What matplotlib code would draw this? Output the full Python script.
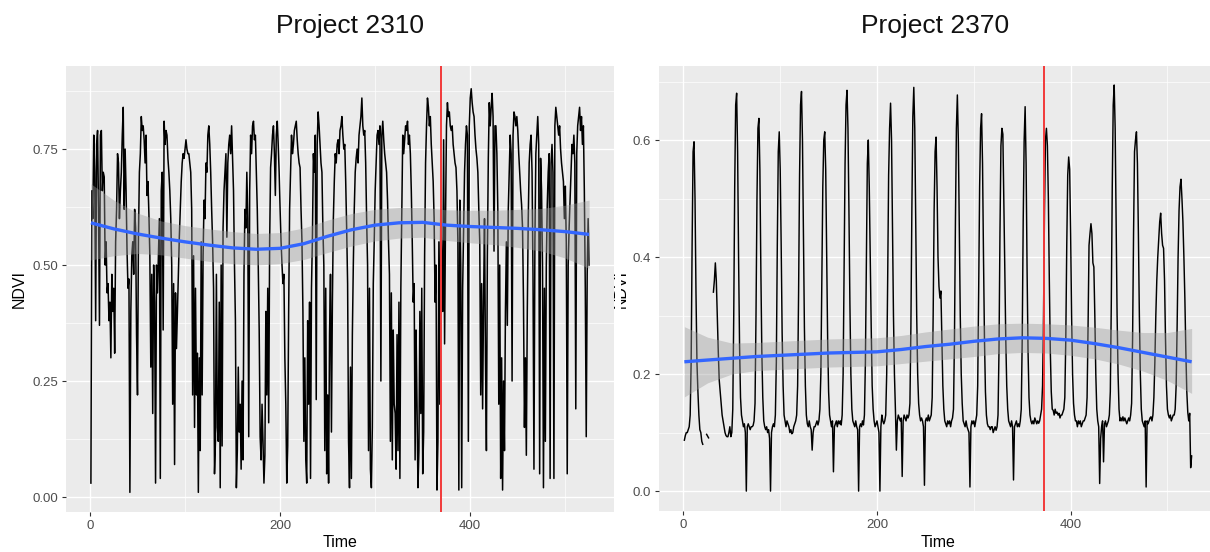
import numpy as np
import matplotlib
matplotlib.use("Agg")
import matplotlib.pyplot as plt
from matplotlib.patches import Rectangle
from matplotlib.ticker import MultipleLocator

plt.rcParams['font.family'] = ['Liberation Sans', 'DejaVu Sans']

# ---------------- data ----------------
titles = ["Project 2310", "Project 2370"]

ndvi_2310 = [
    0.03, 0.66, 0.60, 0.78, 0.70, 0.38, 0.76, 0.79, 0.62, 0.37, 0.78, 0.79, 0.66, 0.70, 0.69, 0.50, 0.55, 0.44, 0.46, 0.38, 0.42, 0.30, 0.48, 0.40, 0.45,
    0.31, 0.55, 0.62, 0.74, 0.72, 0.60, 0.66, 0.70, 0.78, 0.84, 0.62, 0.75, 0.66, 0.53, 0.45, 0.47, 0.01, 0.40, 0.52,
    0.55, 0.48, 0.62, 0.58, 0.35, 0.22, 0.56, 0.70, 0.74, 0.82, 0.79, 0.80, 0.77, 0.72, 0.78, 0.65, 0.68, 0.61, 0.52, 0.28, 0.48, 0.18, 0.50, 0.42, 0.03, 0.50, 0.44,
    0.52, 0.60, 0.04, 0.66, 0.70, 0.36, 0.81, 0.76, 0.79, 0.78, 0.73, 0.70, 0.66, 0.60, 0.50, 0.20, 0.46, 0.07, 0.44, 0.32, 0.40, 0.48,
    0.56, 0.62, 0.68, 0.72, 0.74, 0.73, 0.75, 0.77, 0.75, 0.74, 0.74, 0.72, 0.70, 0.62, 0.22, 0.52, 0.15, 0.45, 0.22, 0.31, 0.01, 0.30, 0.10, 0.55, 0.22, 0.52,
    0.64, 0.60, 0.72, 0.70, 0.78, 0.80, 0.76, 0.70, 0.62, 0.55, 0.45, 0.05, 0.12, 0.48, 0.15, 0.12, 0.42, 0.02, 0.50, 0.11, 0.58,
    0.66, 0.70, 0.74, 0.56, 0.72, 0.76, 0.78, 0.74, 0.80, 0.73, 0.66, 0.50, 0.38, 0.02, 0.10, 0.28, 0.14, 0.20, 0.06, 0.25, 0.08, 0.48, 0.62, 0.58, 0.70,
    0.60, 0.13, 0.66, 0.78, 0.74, 0.80, 0.81, 0.77, 0.78, 0.70, 0.62, 0.50, 0.36, 0.13, 0.08, 0.20, 0.12, 0.03, 0.09, 0.40, 0.22, 0.45, 0.16, 0.55,
    0.71, 0.74, 0.78, 0.80, 0.74, 0.65, 0.78, 0.81, 0.76, 0.70, 0.62, 0.55, 0.50, 0.46, 0.48, 0.30, 0.20, 0.03,
    0.11, 0.40, 0.62, 0.70, 0.78, 0.74, 0.76, 0.79, 0.80, 0.81, 0.77, 0.74, 0.72, 0.71, 0.62, 0.55, 0.40, 0.12, 0.30, 0.08, 0.03, 0.38, 0.20, 0.42, 0.04, 0.45,
    0.56, 0.74, 0.70, 0.78, 0.21, 0.76, 0.83, 0.80, 0.76, 0.72, 0.70, 0.58, 0.50, 0.10, 0.45, 0.05, 0.22, 0.03, 0.35,
    0.48, 0.14, 0.42, 0.60, 0.68, 0.74, 0.72, 0.76, 0.77, 0.74, 0.79, 0.80, 0.82, 0.78, 0.75, 0.76, 0.68, 0.58, 0.46, 0.12, 0.02, 0.28, 0.04, 0.35,
    0.50, 0.62, 0.70, 0.73, 0.75, 0.72, 0.78, 0.80, 0.82, 0.86, 0.80, 0.78, 0.79, 0.72, 0.60, 0.50, 0.10, 0.45, 0.06, 0.02, 0.15, 0.46,
    0.55, 0.66, 0.72, 0.78, 0.79, 0.76, 0.80, 0.25, 0.78, 0.81, 0.77, 0.74, 0.72, 0.70, 0.64, 0.55, 0.48, 0.12, 0.44, 0.08, 0.36, 0.20, 0.18, 0.06, 0.35, 0.10, 0.42, 0.04, 0.45,
    0.62, 0.78, 0.74, 0.77, 0.80, 0.79, 0.81, 0.76, 0.78, 0.74, 0.66, 0.55, 0.42, 0.46, 0.08, 0.36, 0.20, 0.02, 0.10, 0.40, 0.18, 0.45, 0.05, 0.14, 0.52,
    0.72, 0.80, 0.86, 0.84, 0.80, 0.82, 0.76, 0.72, 0.68, 0.60, 0.42, 0.50, 0.015, 0.12, 0.55, 0.20, 0.62, 0.50, 0.40, 0.77, 0.33, 0.60,
    0.80, 0.85, 0.82, 0.83, 0.80, 0.79, 0.80, 0.76, 0.74, 0.72, 0.71, 0.66, 0.55, 0.015, 0.64, 0.50, 0.02, 0.45, 0.58,
    0.70, 0.76, 0.80, 0.78, 0.12, 0.80, 0.86, 0.88, 0.85, 0.83, 0.82, 0.78, 0.75, 0.73, 0.70, 0.62, 0.55, 0.22, 0.46, 0.19, 0.42, 0.60, 0.30, 0.10, 0.52,
    0.73, 0.85, 0.80, 0.84, 0.87, 0.82, 0.53, 0.80, 0.80, 0.74, 0.62, 0.20, 0.50, 0.04, 0.30, 0.015, 0.25,
    0.10, 0.40, 0.55, 0.37, 0.62, 0.70, 0.78, 0.74, 0.25, 0.78, 0.83, 0.82, 0.80, 0.82, 0.79, 0.74, 0.70, 0.66, 0.63, 0.58, 0.42,
    0.15, 0.30, 0.09, 0.40, 0.60, 0.72, 0.76, 0.78, 0.70, 0.48, 0.06, 0.55, 0.74, 0.78, 0.82, 0.76, 0.05, 0.73, 0.66, 0.50, 0.02, 0.45,
    0.12, 0.50, 0.63, 0.70, 0.74, 0.04, 0.72, 0.76, 0.70, 0.04, 0.80, 0.84, 0.82, 0.80, 0.78, 0.80, 0.75, 0.72, 0.70, 0.68, 0.60, 0.67, 0.55, 0.05, 0.50,
    0.58, 0.64, 0.70, 0.76, 0.74, 0.78, 0.72, 0.19, 0.74, 0.80, 0.82, 0.84, 0.79, 0.82, 0.76, 0.80, 0.66, 0.45, 0.13, 0.48, 0.60, 0.50,
]

nan = float('nan')
ndvi_2370 = [
    0.087, 0.095, 0.10, 0.10, 0.105, 0.11, 0.13, 0.22, 0.42, 0.58, 0.597, 0.50, 0.34, 0.22, 0.17, 0.13, 0.105, 0.10, 0.085, 0.08,
    nan, nan, nan,
    0.097, 0.094, 0.091,
    nan, nan, nan, nan,
    0.34, 0.36, 0.39, 0.36, 0.30, 0.24, 0.19, 0.17, 0.15, 0.13, 0.12, 0.11, 0.10, 0.095, 0.093, 0.093, 0.10, 0.11, 0.093, 0.10,
    0.14, 0.30, 0.52, 0.66, 0.68, 0.58, 0.40, 0.25, 0.16, 0.13,
    0.12, 0.11, 0.115, 0.10, 0.00, 0.11, 0.115, 0.11, 0.105, 0.11, 0.11, 0.112, 0.12, 0.15, 0.30, 0.50, 0.62, 0.637,
    0.55, 0.38, 0.24, 0.16, 0.12, 0.11, 0.105, 0.11, 0.10, 0.105, 0.09, 0.00, 0.10, 0.11, 0.115, 0.11, 0.13, 0.22, 0.42, 0.58, 0.614,
    0.55, 0.42, 0.27, 0.18, 0.13, 0.12, 0.11, 0.12, 0.115, 0.11, 0.10, 0.105, 0.098, 0.10, 0.11, 0.115, 0.12, 0.13, 0.18, 0.34, 0.54, 0.66, 0.683,
    0.60, 0.44, 0.28, 0.18, 0.13, 0.115, 0.11, 0.12, 0.11, 0.105, 0.07, 0.10, 0.11, 0.11, 0.115, 0.12, 0.113, 0.12, 0.14, 0.20, 0.36, 0.52, 0.60, 0.614,
    0.55, 0.40, 0.26, 0.17, 0.13, 0.12, 0.11, 0.12, 0.033, 0.11, 0.115, 0.12, 0.11, 0.12, 0.115, 0.12, 0.113, 0.13, 0.20, 0.38, 0.56, 0.66, 0.685,
    0.62, 0.48, 0.32, 0.20, 0.14, 0.12, 0.115, 0.11, 0.12, 0.11, 0.105, 0.00, 0.11, 0.115, 0.11, 0.12, 0.113, 0.13, 0.22, 0.40, 0.56, 0.60,
    0.52, 0.40, 0.28, 0.18, 0.14, 0.12, 0.11, 0.115, 0.12, 0.11, 0.10, 0.00, 0.11, 0.13, 0.12, 0.115, 0.12, 0.13, 0.20, 0.36, 0.54, 0.62, 0.663,
    0.60, 0.45, 0.30, 0.20, 0.14, 0.07, 0.12, 0.13, 0.125, 0.12, 0.125, 0.025, 0.12, 0.13, 0.125, 0.12, 0.13, 0.125, 0.13, 0.15, 0.28, 0.48, 0.64, 0.69,
    0.62, 0.46, 0.30, 0.20, 0.15, 0.13, 0.12, 0.125, 0.12, 0.11, 0.01, 0.12, 0.125, 0.12, 0.13, 0.12, 0.125, 0.13, 0.16, 0.30, 0.48, 0.58, 0.605,
    0.52, 0.40, 0.35, 0.33, 0.342, 0.26, 0.18, 0.14, 0.12, 0.115, 0.11, 0.12, 0.115, 0.12, 0.11, 0.12, 0.125, 0.14, 0.26, 0.46, 0.62, 0.677,
    0.60, 0.45, 0.30, 0.20, 0.15, 0.12, 0.115, 0.11, 0.12, 0.11, 0.105, 0.10, 0.007, 0.11, 0.12, 0.115, 0.12, 0.11, 0.12, 0.13, 0.18, 0.34, 0.52, 0.62, 0.645,
    0.56, 0.40, 0.26, 0.17, 0.13, 0.115, 0.11, 0.11, 0.105, 0.11, 0.11, 0.10, 0.105, 0.11, 0.104, 0.11, 0.13, 0.24, 0.44, 0.59, 0.62,
    0.61, 0.50, 0.38, 0.26, 0.18, 0.14, 0.12, 0.115, 0.11, 0.12, 0.11, 0.019, 0.11, 0.115, 0.12, 0.11, 0.115, 0.11, 0.12, 0.14, 0.26, 0.46, 0.60, 0.657,
    0.56, 0.38, 0.24, 0.16, 0.13, 0.12, 0.115, 0.12, 0.115, 0.125, 0.12, 0.115, 0.12, 0.116, 0.12, 0.13, 0.14, 0.18, 0.30, 0.48, 0.60, 0.62,
    0.59, 0.50, 0.36, 0.24, 0.17, 0.14, 0.138, 0.13, 0.14, 0.133, 0.135, 0.13, 0.133, 0.125, 0.13, 0.13, 0.135, 0.14, 0.16, 0.26, 0.42, 0.54, 0.571,
    0.55, 0.44, 0.30, 0.20, 0.15, 0.13, 0.12, 0.12, 0.11, 0.12, 0.115, 0.12, 0.11, 0.115, 0.12, 0.12, 0.125, 0.13, 0.16, 0.28, 0.42, 0.44, 0.457,
    0.44, 0.39, 0.383, 0.30, 0.20, 0.14, 0.12, 0.11, 0.013, 0.09, 0.11, 0.12, 0.05, 0.115, 0.12, 0.11, 0.115, 0.12, 0.13, 0.17, 0.32, 0.52, 0.66, 0.694,
    0.62, 0.46, 0.30, 0.20, 0.14, 0.12, 0.125, 0.12, 0.127, 0.12, 0.125, 0.12, 0.115, 0.12, 0.125, 0.12, 0.13, 0.15, 0.26, 0.44, 0.58, 0.60, 0.614,
    0.56, 0.44, 0.30, 0.20, 0.14, 0.12, 0.115, 0.11, 0.12, 0.007, 0.12, 0.115, 0.12, 0.125, 0.127, 0.12, 0.13, 0.16, 0.22, 0.30, 0.36, 0.40, 0.43, 0.46, 0.475,
    0.44, 0.42, 0.415, 0.36, 0.26, 0.18, 0.14, 0.13, 0.125, 0.13, 0.12, 0.125, 0.13, 0.13, 0.14, 0.18, 0.28, 0.40, 0.48, 0.52, 0.533,
    0.50, 0.46, 0.40, 0.33, 0.24, 0.17, 0.135, 0.12, 0.133, 0.04, 0.06,
]

# loess smoother
smooth_time = [1, 25, 50, 75, 100, 125, 150, 175, 200, 225, 250, 275, 300, 325, 350, 375, 400, 425, 450, 475, 500, 525]
smooth_2310 = [0.591, 0.578, 0.567, 0.558, 0.550, 0.543, 0.537, 0.534, 0.536, 0.546, 0.562, 0.576, 0.586, 0.591, 0.592, 0.586, 0.583, 0.581, 0.579, 0.576, 0.572, 0.566]
lower_2310 = [0.511, 0.520, 0.525, 0.522, 0.515, 0.508, 0.503, 0.500, 0.503, 0.512, 0.527, 0.541, 0.552, 0.558, 0.560, 0.553, 0.548, 0.544, 0.538, 0.530, 0.515, 0.493]
upper_2310 = [0.675, 0.640, 0.612, 0.595, 0.585, 0.578, 0.572, 0.568, 0.570, 0.580, 0.597, 0.611, 0.620, 0.624, 0.624, 0.619, 0.618, 0.618, 0.620, 0.622, 0.629, 0.640]
smooth_2370 = [0.221, 0.224, 0.227, 0.230, 0.232, 0.234, 0.236, 0.237, 0.238, 0.242, 0.247, 0.251, 0.256, 0.260, 0.262, 0.261, 0.258, 0.252, 0.245, 0.237, 0.229, 0.221]
lower_2370 = [0.161, 0.185, 0.200, 0.206, 0.208, 0.210, 0.212, 0.213, 0.214, 0.218, 0.222, 0.226, 0.230, 0.235, 0.237, 0.236, 0.232, 0.226, 0.217, 0.205, 0.189, 0.167]
upper_2370 = [0.281, 0.263, 0.253, 0.254, 0.256, 0.258, 0.260, 0.261, 0.262, 0.266, 0.272, 0.277, 0.282, 0.286, 0.287, 0.286, 0.284, 0.280, 0.275, 0.271, 0.271, 0.278]

vline_time = [369.5, 373.0]

x_ticks = [0, 200, 400]
y_ticks_2310 = [0.00, 0.25, 0.50, 0.75]
y_labels_2310 = ["0.00", "0.25", "0.50", "0.75"]
y_ticks_2370 = [0.0, 0.2, 0.4, 0.6]
y_labels_2370 = ["0.0", "0.2", "0.4", "0.6"]

# ---------------- figure ----------------
W, H = 1210, 552
fig = plt.figure(figsize=(W / 100, H / 100), dpi=100)
fig.patch.set_facecolor("white")


def px_axes(left, right, top, bottom):
    return fig.add_axes([left / W, (H - bottom) / H, (right - left) / W, (bottom - top) / H])


ax1 = px_axes(66, 614, 66, 512)
ax2 = px_axes(659, 1217, 66, 511)

panels = [
    (ax1, ndvi_2310, smooth_2310, lower_2310, upper_2310, vline_time[0],
     (-25.2, 551.2), (-0.0323, 0.929), y_ticks_2310, y_labels_2310, 0.125, 1.1),
    (ax2, ndvi_2370, smooth_2370, lower_2370, upper_2370, vline_time[1],
     (-25.2, 551.2), (-0.034, 0.7265), y_ticks_2370, y_labels_2370, 0.1, 1.05),
]

for ax, vals, sm, lo, hi, vt, xl, yl, yt, ylab, yminor, lw in panels:
    t = np.arange(1, len(vals) + 1)
    ax.set_facecolor("#EBEBEB")
    for s in ax.spines.values():
        s.set_visible(False)
    ax.plot(t, vals, color="black", lw=lw, zorder=3)
    ax.fill_between(smooth_time, lo, hi, color="#999999", alpha=0.4, lw=0, zorder=4)
    ax.plot(smooth_time, sm, color="#3366FF", lw=2.4, zorder=5, solid_capstyle="butt")
    ax.axvline(vt, color="#F23A3A", lw=1.4, zorder=6)
    ax.set_xlim(*xl)
    ax.set_ylim(*yl)
    ax.set_xticks(x_ticks)
    ax.set_xticklabels([str(v) for v in x_ticks])
    ax.set_yticks(yt)
    ax.set_yticklabels(ylab)
    ax.xaxis.set_minor_locator(MultipleLocator(100))
    ax.yaxis.set_minor_locator(MultipleLocator(yminor))
    ax.grid(which="major", color="white", lw=1.0, zorder=0)
    ax.grid(which="minor", color="white", lw=0.5, zorder=0)
    ax.set_axisbelow(True)
    ax.tick_params(which="major", length=3.2, width=0.8, color="#333333",
                   labelcolor="#4D4D4D", labelsize=9.5, pad=2.5)
    ax.tick_params(which="minor", length=0)
    ax.set_xlabel("Time", fontsize=11.5, color="black")
    ax.set_ylabel("NDVI", fontsize=11.5, color="black")

ax1.xaxis.set_label_coords(0.5, (512 - 535) / 446)
ax2.xaxis.set_label_coords(0.5, (511 - 535) / 445)
ax1.yaxis.set_label_coords((27 - 66) / 548, 0.5)
ax2.yaxis.set_label_coords((629 - 659) / 558, 0.5)

# the second panel's axis title is partly covered in the reference
fig.patches.append(Rectangle((615 / W, (H - 330) / H), 6 / W, 80 / H,
                             transform=fig.transFigure, facecolor="white",
                             edgecolor="none", zorder=20))

fig.text(350 / W, 1 - 26 / H, titles[0], fontsize=19, ha="center", va="center", color="#111111")
fig.text(935 / W, 1 - 26 / H, titles[1], fontsize=19, ha="center", va="center", color="#111111")

fig.savefig("out.png", dpi=100, facecolor="white")
